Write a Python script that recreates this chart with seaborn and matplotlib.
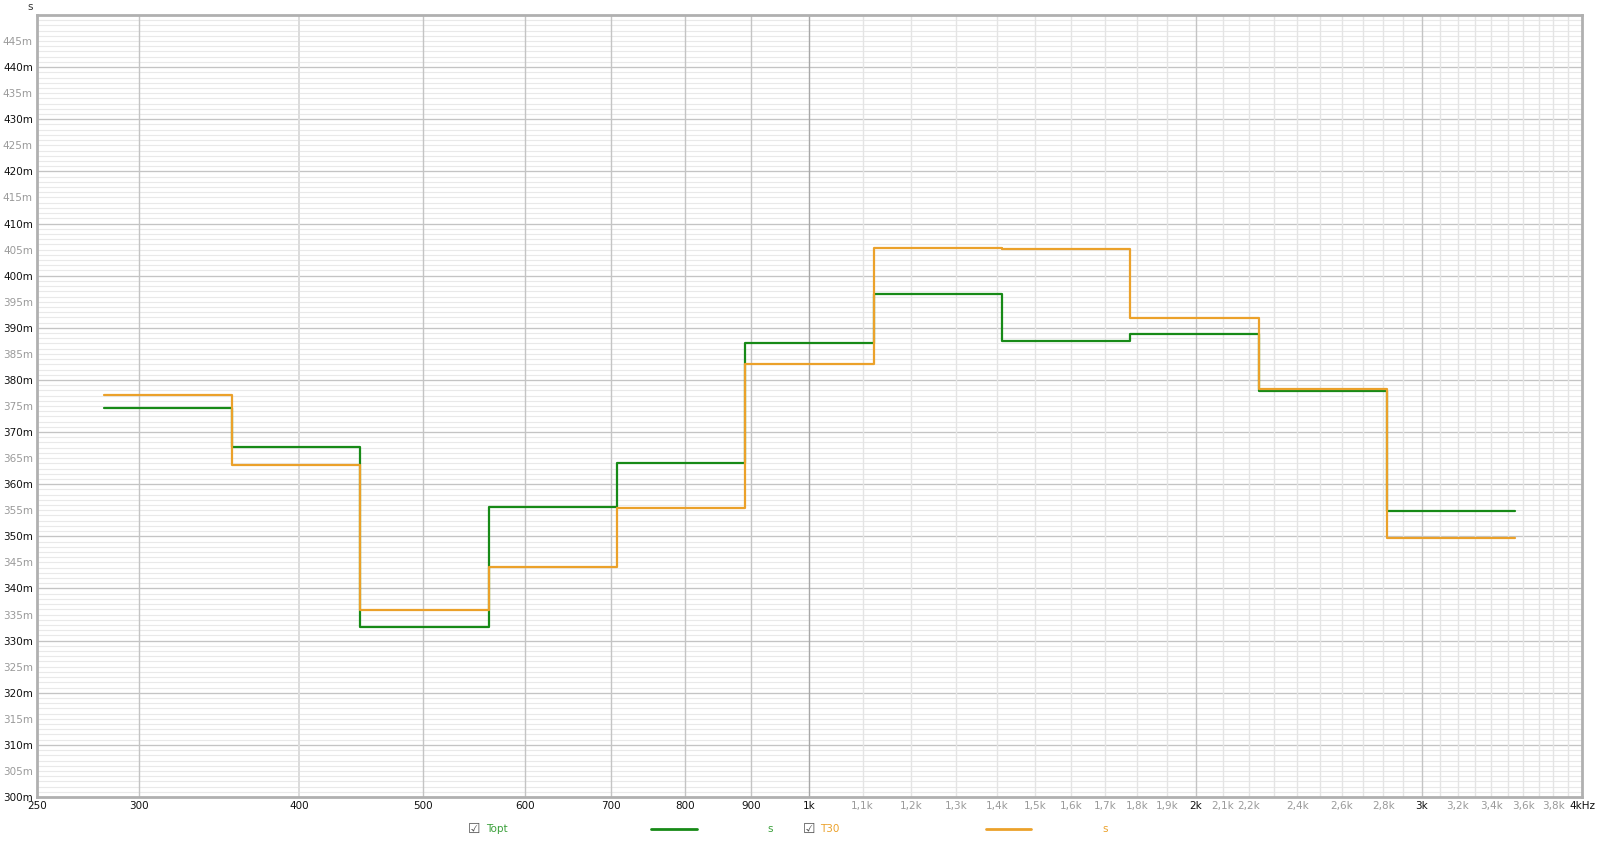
import matplotlib
matplotlib.use("Agg")
import matplotlib.pyplot as plt
from matplotlib.lines import Line2D
import seaborn as sns
import pandas as pd

# third-octave band numbers (centre = 10^(n/10) Hz, 315 Hz ... 3150 Hz)
band_n = [25, 26, 27, 28, 29, 30, 31, 32, 33, 34, 35]
# reverberation times, seconds
topt = [0.3746, 0.3672, 0.3326, 0.3556, 0.3640, 0.3870, 0.3964, 0.3874, 0.3888, 0.3778, 0.3548]
t30 = [0.3772, 0.3636, 0.3359, 0.3442, 0.3554, 0.3831, 0.4054, 0.4052, 0.3919, 0.3783, 0.3497]

xtick_vals = [250, 300, 400, 500, 600, 700, 800, 900, 1000, 1100, 1200, 1300, 1400, 1500,
              1600, 1700, 1800, 1900, 2000, 2100, 2200, 2400, 2600, 2800, 3000, 3200,
              3400, 3600, 3800, 4000]
xtick_labels = ["250", "300", "400", "500", "600", "700", "800", "900", "1k", "1,1k", "1,2k",
                "1,3k", "1,4k", "1,5k", "1,6k", "1,7k", "1,8k", "1,9k", "2k", "2,1k", "2,2k",
                "2,4k", "2,6k", "2,8k", "3k", "3,2k", "3,4k", "3,6k", "3,8k", "4kHz"]
ytick_vals = list(range(300, 450, 5))


def steps(ns, vals):
    # each band drawn from its lower to its upper edge
    edges = [10 ** ((n - 0.5) / 10) for n in ns] + [10 ** ((ns[-1] + 0.5) / 10)]
    return pd.DataFrame({"f": edges, "t": [v * 1000 for v in vals] + [vals[-1] * 1000]})


GREEN = "#178a17"
ORANGE = "#eba12a"

sns.set_style("white")
fig = plt.figure(figsize=(16, 8.42), dpi=100)
ax = fig.add_axes([37 / 1600, 1 - 797 / 842, (1582 - 37) / 1600, (797 - 15) / 842])
ax.set_xscale("log")
ax.set_xlim(250, 4000)
ax.set_ylim(300, 450)

# grid
for y in range(301, 450):
    ax.axhline(y, color="#e9e9e9", lw=0.8, zorder=0)
for y in range(310, 450, 10):
    ax.axhline(y, color="#c4c4c4", lw=0.9, zorder=0)
for f in range(1100, 4000, 100):
    if f % 1000:
        ax.axvline(f, color="#e4e4e4", lw=1.0, zorder=0)
for f in [300, 500, 600, 700, 800, 900, 2000, 3000]:
    ax.axvline(f, color="#c4c4c4", lw=1.0, zorder=0)
ax.axvline(400, color="#dcdcdc", lw=1.4, zorder=0)
ax.axvline(1000, color="#a8a8a8", lw=1.0, zorder=0)

sns.lineplot(data=steps(band_n, topt), x="f", y="t", ax=ax, color=GREEN, lw=1.6,
             drawstyle="steps-post", sort=False, estimator=None, zorder=3)
sns.lineplot(data=steps(band_n, t30), x="f", y="t", ax=ax, color=ORANGE, lw=1.6,
             drawstyle="steps-post", sort=False, estimator=None, zorder=3)

ax.set_xlabel("")
ax.set_ylabel("")
ax.xaxis.set_minor_locator(matplotlib.ticker.NullLocator())
ax.set_xticks(xtick_vals)
ax.set_xticklabels(xtick_labels)
ax.set_yticks(ytick_vals)
ax.set_yticklabels([f"{v}m" for v in ytick_vals])
ax.tick_params(length=0, labelsize=7.5, pad=3)
for lab, v in zip(ax.get_xticklabels(), xtick_vals):
    lab.set_color("#111111" if v in (250, 300, 400, 500, 600, 700, 800, 900, 1000, 2000, 3000, 4000) else "#9a9a9a")
for lab, v in zip(ax.get_yticklabels(), ytick_vals):
    lab.set_color("#111111" if v % 10 == 0 else "#9a9a9a")
for s in ax.spines.values():
    s.set_color("#b0b0b0")
    s.set_linewidth(2)

fig.text(30 / 1600, 1 - 7 / 842, "s", fontsize=7.5, color="#333333", ha="center", va="center")

# legend row
ly = 1 - 829 / 842
fig.text(474 / 1600, ly, "☑", fontsize=10, color="#555555", ha="center", va="center")
fig.text(486 / 1600, ly, "Topt", fontsize=7.5, color="#3aa03a", va="center")
fig.add_artist(Line2D([651 / 1600, 697 / 1600], [ly, ly], color=GREEN, lw=2))
fig.text(767 / 1600, ly, "s", fontsize=7.5, color="#3aa03a", va="center")
fig.text(809 / 1600, ly, "☑", fontsize=10, color="#555555", ha="center", va="center")
fig.text(820 / 1600, ly, "T30", fontsize=7.5, color=ORANGE, va="center")
fig.add_artist(Line2D([986 / 1600, 1031 / 1600], [ly, ly], color=ORANGE, lw=2))
fig.text(1102 / 1600, ly, "s", fontsize=7.5, color=ORANGE, va="center")

fig.savefig("out.png", dpi=100)
